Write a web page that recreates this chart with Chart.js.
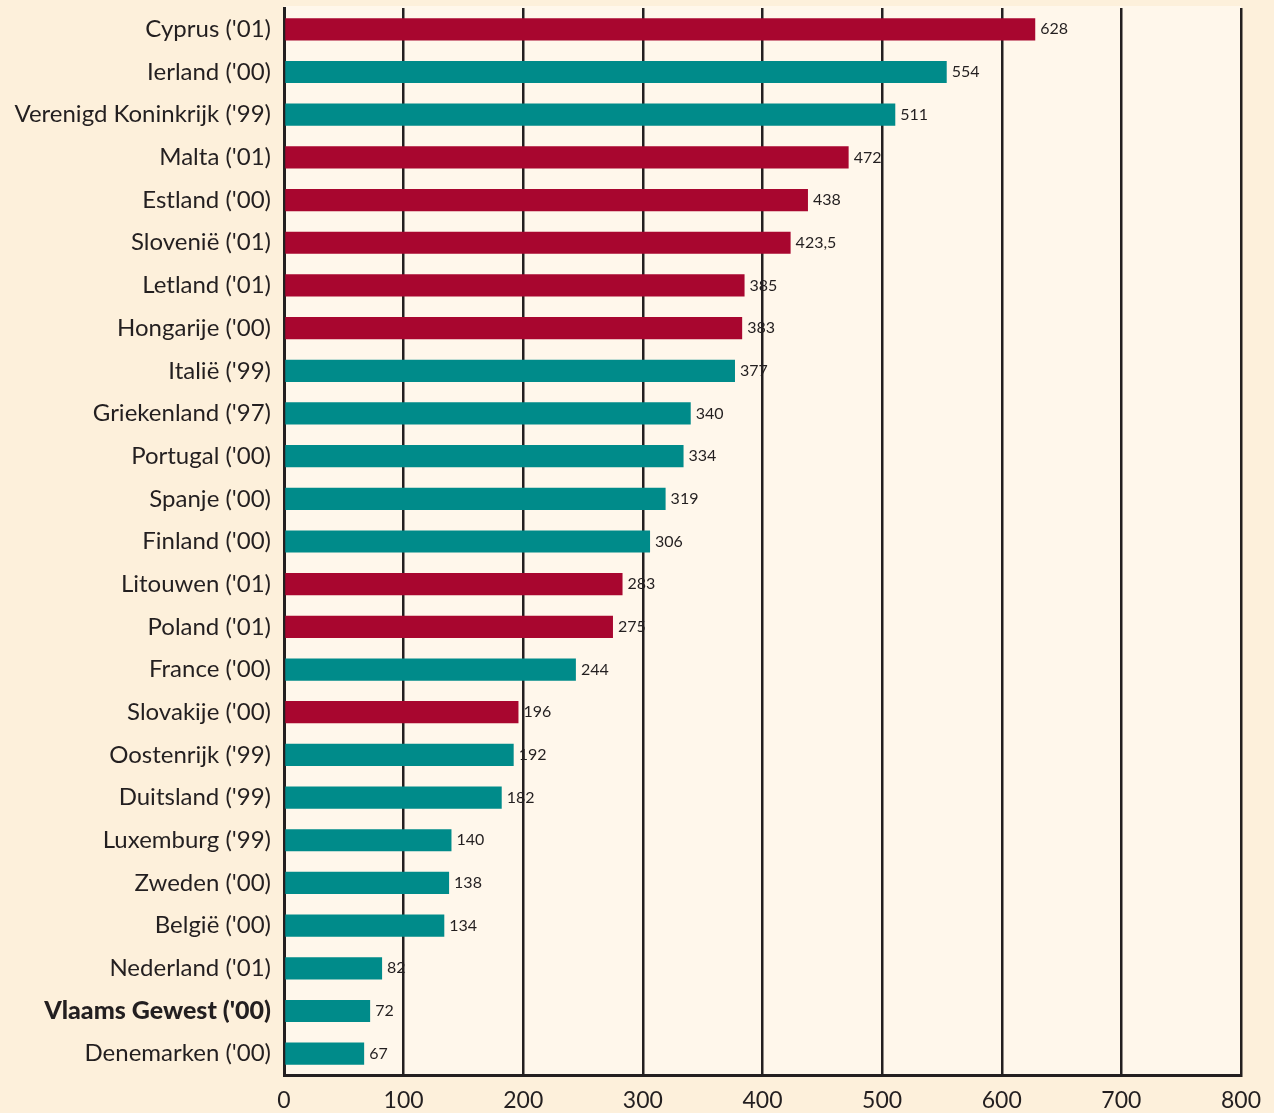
<!DOCTYPE html>
<html>
<head>
<meta charset="utf-8">
<script src="https://cdn.jsdelivr.net/npm/chart.js@4/dist/chart.umd.min.js"></script>
<style>
  html,body{margin:0;padding:0;background:#fdf0db;}
  #wrap{width:1274px;height:1113px;}
</style>
</head>
<body>
<div id="wrap"><canvas id="chart"></canvas></div>
<script>
var countries=["Cyprus ('01)","Ierland ('00)","Verenigd Koninkrijk ('99)","Malta ('01)","Estland ('00)","Slovenië ('01)","Letland ('01)","Hongarije ('00)","Italië ('99)","Griekenland ('97)","Portugal ('00)","Spanje ('00)","Finland ('00)","Litouwen ('01)","Poland ('01)","France ('00)","Slovakije ('00)","Oostenrijk ('99)","Duitsland ('99)","Luxemburg ('99)","Zweden ('00)","België ('00)","Nederland ('01)","Vlaams Gewest ('00)","Denemarken ('00)"];
var values=[628,554,511,472,438,423.5,385,383,377,340,334,319,306,283,275,244,196,192,182,140,138,134,82,72,67];
// r = nieuwe lidstaat, t = EU-15
var groups=['r','t','t','r','r','r','r','r','t','t','t','t','t','r','r','t','r','t','t','t','t','t','t','t','t'];
var xTicks=[0,100,200,300,400,500,600,700,800];

var RED='#a8062f', TEAL='#008b8a', INK='#231f20';
var FONT='Lato, "Open Sans", sans-serif';

var bgPlugin={
  id:'bg',
  beforeDraw:function(c){
    var ctx=c.ctx, a=c.chartArea;
    ctx.save();
    ctx.fillStyle='#fdf0db';
    ctx.fillRect(0,0,c.width,c.height);
    ctx.fillStyle='#fff7eb';
    ctx.fillRect(a.left,a.top-2,a.right-a.left,a.bottom-a.top+2);
    ctx.restore();
  }
};
var labelPlugin={
  id:'vals',
  afterDatasetsDraw:function(c){
    var ctx=c.ctx, meta=c.getDatasetMeta(0);
    ctx.save();
    ctx.font='16px '+FONT;
    ctx.fillStyle=INK;
    ctx.textBaseline='middle';
    meta.data.forEach(function(bar,i){
      ctx.fillText(String(values[i]).replace('.',','),bar.x+5,bar.y);
    });
    ctx.restore();
  }
};

new Chart(document.getElementById('chart'),{
  type:'bar',
  data:{
    labels:countries,
    datasets:[{
      data:values,
      backgroundColor:groups.map(function(g){return g==='r'?RED:TEAL;}),
      borderWidth:0,
      barPercentage:0.52,
      categoryPercentage:1
    }]
  },
  options:{
    indexAxis:'y',
    responsive:true,
    maintainAspectRatio:false,
    animation:false,
    layout:{padding:{top:8,right:33,left:0,bottom:0}},
    plugins:{legend:{display:false},tooltip:{enabled:false}},
    scales:{
      x:{
        min:0,max:800,
        afterBuildTicks:function(s){s.ticks=xTicks.map(function(v){return {value:v};});},
        grid:{color:INK,lineWidth:2.5,drawTicks:false},
        border:{color:INK,width:3},
        ticks:{color:INK,padding:12,font:{family:FONT,size:23}},
        afterFit:function(s){s.height=38;}
      },
      y:{
        grid:{display:false},
        border:{color:INK,width:3},
        ticks:{
          color:INK,padding:5,
          font:function(ctx){
            var bold=countries[ctx.index]==="Vlaams Gewest ('00)";
            return {family:FONT,size:bold?25:24,weight:bold?'900':'normal'};
          }
        },
        afterFit:function(s){s.width=284;s.paddingTop=0;s.paddingBottom=0;}
      }
    }
  },
  plugins:[bgPlugin,labelPlugin]
});
</script>
</body>
</html>
